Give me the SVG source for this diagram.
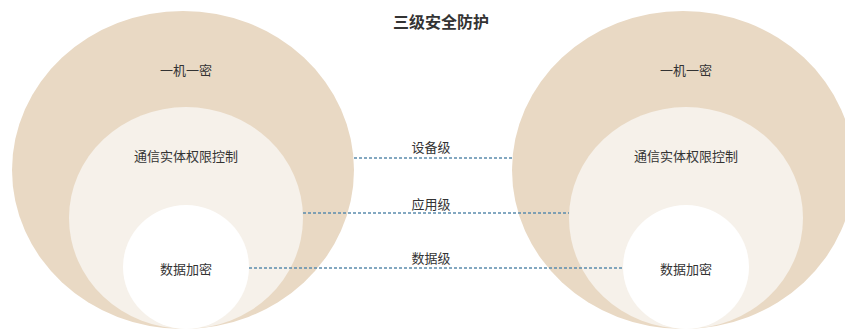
<svg xmlns="http://www.w3.org/2000/svg" width="845" height="329" viewBox="0 0 845 329">
<style>
.outer{fill:#e9d9c4}
.mid{fill:#f6f1ea}
.inner{fill:#ffffff}
.t{font-family:"Noto Sans CJK SC","Noto Sans",sans-serif;font-size:13px;fill:#333;text-anchor:middle}
.title{font-family:"Noto Sans CJK SC","Noto Sans",sans-serif;font-size:16px;font-weight:bold;fill:#333;text-anchor:middle}
.link{stroke:#5b8cad;stroke-width:1.5;stroke-dasharray:3 2;fill:none}
</style>
<rect width="845" height="329" fill="#ffffff"/>
<text class="title" x="441" y="28">三级安全防护</text>
<g id="left">
<g id="left-outer"><ellipse class="outer" cx="183" cy="170" rx="171" ry="159"/><text class="t" x="186" y="75">一机一密</text></g>
<g id="left-mid"><ellipse class="mid" cx="186" cy="218" rx="117" ry="111"/><text class="t" x="186" y="161">通信实体权限控制</text></g>
<g id="left-inner"><ellipse class="inner" cx="186" cy="267" rx="63" ry="62"/><text class="t" x="186" y="274">数据加密</text></g>
</g>
<g id="right">
<g id="right-outer"><ellipse class="outer" cx="683" cy="170" rx="171" ry="159"/><text class="t" x="686" y="75">一机一密</text></g>
<g id="right-mid"><ellipse class="mid" cx="686" cy="218" rx="117" ry="111"/><text class="t" x="686" y="161">通信实体权限控制</text></g>
<g id="right-inner"><ellipse class="inner" cx="686" cy="267" rx="63" ry="62"/><text class="t" x="686" y="274">数据加密</text></g>
</g>
<g id="connectors">
<line class="link" x1="354" y1="158" x2="512" y2="158"/>
<line class="link" x1="303" y1="213" x2="569" y2="213"/>
<line class="link" x1="249" y1="268" x2="623" y2="268"/>
<text class="t" x="431" y="152">设备级</text>
<text class="t" x="431" y="209">应用级</text>
<text class="t" x="431" y="263">数据级</text>
</g>
</svg>
